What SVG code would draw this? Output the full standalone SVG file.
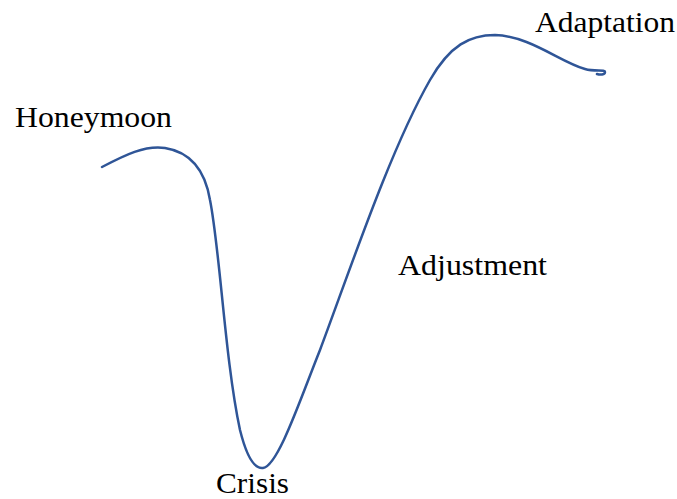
<svg xmlns="http://www.w3.org/2000/svg" width="677" height="499" viewBox="0 0 677 499">
<style>
.lbl{font-family:"Liberation Serif","Times New Roman",serif;font-size:29px;fill:#000}
.curve{fill:none;stroke:#2F5597;stroke-width:2.5;stroke-linecap:round;stroke-linejoin:round}
</style>
<rect width="677" height="499" fill="#fff"/>
<g id="connectors">
<path class="curve" d="M102,167 C125,155 145,145 165,148 C190,152 205,170 210,200 C220,250 225,360 240,430 C247,458 255,469 263,468 C278,466 300,400 320,350 C350,270 390,150 430,80 C450,45 470,35 495,35 C530,36 560,62 585,69 C595,72 605,69 605,72 C605,75 600,75 597,74"/>
</g>
<g id="honeymoon"><text class="lbl" x="15" y="127" textLength="157" lengthAdjust="spacingAndGlyphs">Honeymoon</text></g>
<g id="crisis"><text class="lbl" x="216" y="493" textLength="73" lengthAdjust="spacingAndGlyphs">Crisis</text></g>
<g id="adjustment"><text class="lbl" x="398" y="275" textLength="149" lengthAdjust="spacingAndGlyphs">Adjustment</text></g>
<g id="adaptation"><text class="lbl" x="535" y="32" textLength="140" lengthAdjust="spacingAndGlyphs">Adaptation</text></g>
</svg>
